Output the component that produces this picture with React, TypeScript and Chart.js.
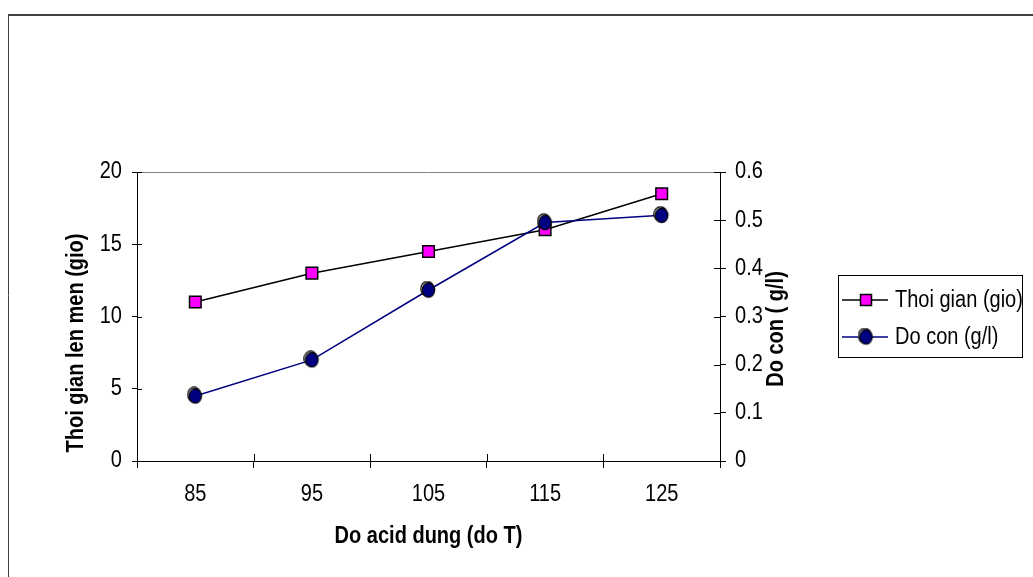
import React, { useEffect, useRef } from "react";
import { Chart, registerables } from "chart.js";
Chart.register(...registerables);

const categories = ["85", "95", "105", "115", "125"];
const thoiGian = [11, 13, 14.5, 16, 18.5];
const doCon = [0.135, 0.21, 0.355, 0.495, 0.51];
const seriesNames = ["Thoi gian (gio)", "Do con (g/l)"];
const xTitle = "Do acid dung (do T)";
const yTitle = "Thoi gian len men (gio)";
const y1Title = "Do con ( g/l)";

const FONT = "'Liberation Sans', Arial, sans-serif";
const TICK_FONT = `23px ${FONT}`;
const TITLE_FONT = `bold 23px ${FONT}`;
const LEGEND_FONT = `23px ${FONT}`;
const SX = 0.87; // horizontal condensing of text

function makeBall(): HTMLCanvasElement {
  const c = document.createElement("canvas");
  c.width = 17;
  c.height = 19;
  const g = c.getContext("2d")!;
  g.lineWidth = 1.2;
  g.strokeStyle = "#000";
  g.beginPath();
  g.ellipse(7.3, 8.3, 6.5, 7.5, 0, 0, Math.PI * 2);
  g.fillStyle = "#fff";
  g.fill();
  g.stroke();
  g.beginPath();
  g.ellipse(8.5, 9.5, 6.2, 7.2, 0, 0, Math.PI * 2);
  g.fillStyle = "#000080";
  g.fill();
  g.stroke();
  return c;
}

function text(
  ctx: CanvasRenderingContext2D,
  s: string,
  x: number,
  y: number,
  align: CanvasTextAlign,
  font: string,
  rot = 0
) {
  ctx.save();
  ctx.translate(x, y);
  if (rot) ctx.rotate(rot);
  ctx.scale(SX, 1);
  ctx.font = font;
  ctx.textAlign = align;
  ctx.textBaseline = "middle";
  ctx.fillStyle = "#000";
  ctx.fillText(s, 0, 0);
  ctx.restore();
}

const decor = {
  id: "decor",
  beforeDraw(chart: any) {
    const ctx = chart.ctx;
    ctx.save();
    ctx.fillStyle = "#fff";
    ctx.fillRect(0, 0, chart.width, chart.height);
    ctx.strokeStyle = "#404040";
    ctx.lineWidth = 2;
    ctx.beginPath();
    ctx.moveTo(8, 15);
    ctx.lineTo(chart.width, 15);
    ctx.stroke();
    ctx.lineWidth = 1;
    ctx.beginPath();
    ctx.moveTo(8.5, 14);
    ctx.lineTo(8.5, chart.height);
    ctx.stroke();
    ctx.restore();
  },
  afterDraw(chart: any) {
    const ctx = chart.ctx;
    const a = chart.chartArea;
    const x = chart.scales.x;
    const y = chart.scales.y;
    const y1 = chart.scales.y1;
    ctx.save();
    // plot top border
    ctx.strokeStyle = "#808080";
    ctx.lineWidth = 1;
    ctx.beginPath();
    ctx.moveTo(a.left, Math.round(a.top) + 0.5);
    ctx.lineTo(a.right, Math.round(a.top) + 0.5);
    ctx.stroke();
    // inward tick halves
    ctx.strokeStyle = "#000";
    ctx.beginPath();
    y.ticks.forEach((_: any, i: number) => {
      const py = Math.round(y.getPixelForTick(i)) + 0.5;
      ctx.moveTo(a.left, py);
      ctx.lineTo(a.left + 5, py);
    });
    y1.ticks.forEach((_: any, i: number) => {
      const py = Math.round(y1.getPixelForTick(i)) + 0.5;
      ctx.moveTo(a.right, py);
      ctx.lineTo(a.right - 6, py);
    });
    for (let i = 0; i <= categories.length; i++) {
      const px = Math.round(x.getPixelForValue(i - 0.5)) + 0.5;
      ctx.moveTo(px, a.bottom);
      ctx.lineTo(px, a.bottom - 7);
    }
    ctx.stroke();

    // tick labels
    y.ticks.forEach((t: any, i: number) => {
      text(ctx, String(t.value), a.left - 15, y.getPixelForTick(i), "right", TICK_FONT);
    });
    y1.ticks.forEach((t: any, i: number) => {
      text(ctx, String(Number(Number(t.value).toFixed(1))), a.right + 15, y1.getPixelForTick(i), "left", TICK_FONT);
    });
    categories.forEach((c, i) => {
      text(ctx, c, x.getPixelForValue(i), 495, "center", TICK_FONT);
    });

    // titles
    text(ctx, xTitle, (a.left + a.right) / 2, 537, "center", TITLE_FONT);
    text(ctx, yTitle, 77, 343, "center", TITLE_FONT, -Math.PI / 2);
    text(ctx, y1Title, 777, 329, "center", TITLE_FONT, -Math.PI / 2);

    // legend
    const bx = 838.5, by = 275.5, bw = 184, bh = 82;
    ctx.strokeStyle = "#000";
    ctx.lineWidth = 1;
    ctx.strokeRect(bx, by, bw, bh);
    const rows = [300, 337];
    chart.data.datasets.forEach((ds: any) => {
      const ry = rows[ds.legendRow];
      ctx.strokeStyle = ds.borderColor;
      ctx.lineWidth = ds.borderWidth;
      ctx.beginPath();
      ctx.moveTo(842, ry);
      ctx.lineTo(888, ry);
      ctx.stroke();
      const mx = 866;
      if (ds.pointStyle === "rect") {
        ctx.fillStyle = ds.pointBackgroundColor;
        ctx.strokeStyle = ds.pointBorderColor;
        ctx.lineWidth = ds.pointBorderWidth;
        ctx.fillRect(mx - 5.5, ry - 5.5, 11, 11);
        ctx.strokeRect(mx - 5.5, ry - 5.5, 11, 11);
      } else {
        const img = ds.pointStyle as HTMLCanvasElement;
        ctx.drawImage(img, mx - img.width / 2, ry - img.height / 2);
      }
      text(ctx, ds.label, 895, ry + 1, "left", LEGEND_FONT);
    });
    ctx.restore();
  },
};

export default function App() {
  const ref = useRef<HTMLCanvasElement | null>(null);
  useEffect(() => {
    if (!ref.current) return;
    const ball = makeBall();
    const hidden = { color: "rgba(0,0,0,0)", font: { size: 12 } };
    const chart = new Chart(ref.current, {
      type: "line",
      data: {
        labels: categories,
        datasets: [
          {
            label: seriesNames[0],
            data: thoiGian,
            yAxisID: "y",
            borderColor: "#000000",
            borderWidth: 1.5,
            pointStyle: "rect",
            pointRadius: 8.2,
            pointBackgroundColor: "#FF00FF",
            pointBorderColor: "#000000",
            pointBorderWidth: 1.5,
            order: 1,
            legendRow: 0,
          } as any,
          {
            label: seriesNames[1],
            data: doCon,
            yAxisID: "y1",
            borderColor: "#000080",
            borderWidth: 1.5,
            pointStyle: ball,
            pointRadius: 9,
            order: 0,
            legendRow: 1,
          } as any,
        ],
      },
      options: {
        animation: false,
        responsive: false,
        devicePixelRatio: 1,
        layout: { padding: { left: 60, right: 238, top: 172, bottom: 46 } },
        plugins: { legend: { display: false }, tooltip: { enabled: false } },
        scales: {
          x: {
            type: "category",
            offset: true,
            grid: { display: true, drawOnChartArea: false, drawTicks: true, tickLength: 7, offset: true, color: "#000" },
            border: { display: true, color: "#000" },
            ticks: { ...hidden, maxRotation: 0 },
            afterFit: (s: any) => { s.height = 70; },
          },
          y: {
            position: "left",
            min: 0,
            max: 20,
            grid: { display: true, drawOnChartArea: false, drawTicks: true, tickLength: 5, color: "#000" },
            border: { display: true, color: "#000" },
            ticks: { ...hidden, stepSize: 5 },
            afterFit: (s: any) => { s.width = 77; },
          },
          y1: {
            position: "right",
            min: 0,
            max: 0.6,
            grid: { display: true, drawOnChartArea: false, drawTicks: true, tickLength: 6, color: "#000" },
            border: { display: true, color: "#000" },
            ticks: { ...hidden, stepSize: 0.1 },
            afterFit: (s: any) => { s.width = 75; },
          },
        },
      } as any,
      plugins: [decor],
    });
    return () => chart.destroy();
  }, []);
  return (
    <>
      <style>{"body{margin:0;}"}</style>
      <canvas ref={ref} width={1033} height={577} style={{ display: "block" }} />
    </>
  );
}
